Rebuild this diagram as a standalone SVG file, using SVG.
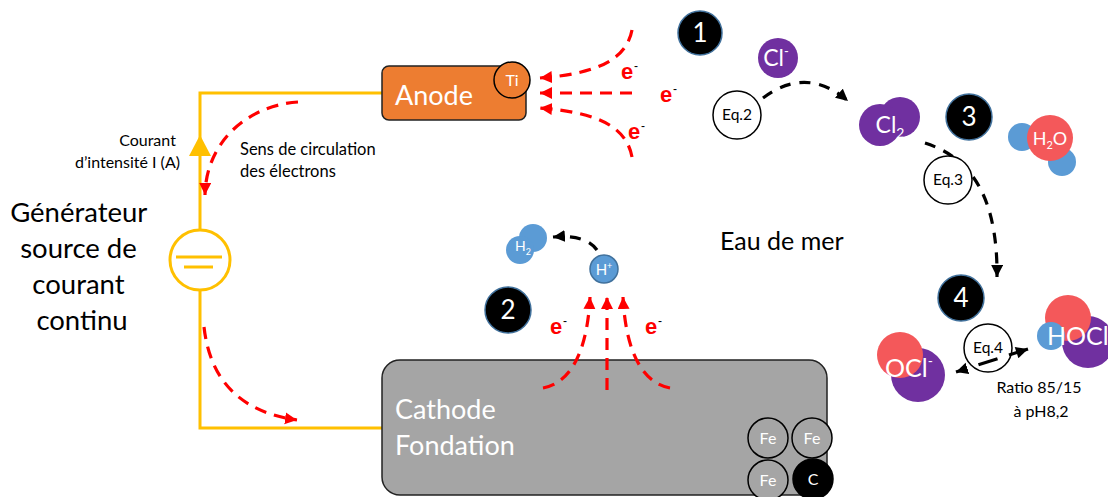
<svg xmlns="http://www.w3.org/2000/svg" width="1108" height="497" viewBox="0 0 1108 497">
  <style>
    .t { font-family: Lato, "Open Sans", "Liberation Sans", sans-serif; }
    .wire { fill: none; stroke: #FFC000; stroke-width: 3; }
    .eflow { fill: none; stroke: #FF0000; stroke-width: 3.2; stroke-dasharray: 12 8; }
    .react { fill: none; stroke: #000; stroke-width: 3.2; stroke-dasharray: 11 9; }
    .num circle { fill: #000; stroke: #41719C; stroke-width: 1.5; }
    .num text { fill: #fff; font-size: 26px; text-anchor: middle; }
    .eq circle { fill: #fff; stroke: #000; stroke-width: 1.5; }
    .eq text { fill: #000; font-size: 15.5px; text-anchor: middle; }
    .el { fill: #FF0000; font-size: 22px; font-weight: bold; font-family: "Liberation Sans", sans-serif; }
    .elm { fill: #000; font-size: 12px; font-family: "Liberation Sans", sans-serif; }
    .mol { fill: #fff; text-anchor: middle; }
    .fe circle { fill: #A5A5A5; stroke: #000; stroke-width: 1.5; }
    .fe text { fill: #fff; font-size: 16px; text-anchor: middle; }
  </style>
  <defs>
    <marker id="arrRed" markerUnits="userSpaceOnUse" markerWidth="14" markerHeight="14" refX="12" refY="6" orient="auto">
      <path d="M0,0 L12,6 L0,12 Z" fill="#FF0000"/>
    </marker>
    <marker id="arrBlack" markerUnits="userSpaceOnUse" markerWidth="14" markerHeight="14" refX="12" refY="6" orient="auto">
      <path d="M0,0 L12,6 L0,12 Z" fill="#000"/>
    </marker>
    <marker id="arrBlackStart" markerUnits="userSpaceOnUse" markerWidth="14" markerHeight="14" refX="0" refY="6" orient="auto">
      <path d="M12,0 L0,6 L12,12 Z" fill="#000"/>
    </marker>
  </defs>

  <rect width="1108" height="497" fill="#fff"/>

  <!-- DC circuit wiring -->
  <g id="circuit">
    <path class="wire" d="M382,93 L200,93 L200,230"/>
    <path class="wire" d="M200,290 L200,428 L382,428"/>
    <polygon points="200,135 189,156 211,156" fill="#FFC000"/>
  </g>

  <!-- Generator -->
  <g id="generator">
    <circle cx="200" cy="260" r="30" fill="#fff" stroke="#FFC000" stroke-width="3"/>
    <line x1="176" y1="257" x2="222" y2="257" stroke="#FFC000" stroke-width="3"/>
    <line x1="184" y1="267" x2="213" y2="267" stroke="#FFC000" stroke-width="3"/>
    <text class="t" font-size="27.5" text-anchor="middle" fill="#000">
      <tspan x="82" y="222">Générateur</tspan>
      <tspan x="82" y="258">source de</tspan>
      <tspan x="82" y="294">courant</tspan>
      <tspan x="82" y="330">continu</tspan>
    </text>
  </g>

  <g id="current-label">
    <text class="t" font-size="16" text-anchor="end" fill="#000">
      <tspan x="180" y="146">Courant</tspan>
      <tspan x="180" y="168">d’intensité I (A)</tspan>
    </text>
  </g>

  <g id="electron-label">
    <text class="t" font-size="16.5" fill="#000">
      <tspan x="240" y="155">Sens de circulation</tspan>
      <tspan x="240" y="177">des électrons</tspan>
    </text>
  </g>

  <!-- Anode -->
  <g id="anode">
    <rect x="382" y="66" width="144" height="54" rx="7" fill="#ED7D31" stroke="#222" stroke-width="1.5"/>
    <text class="t" x="395" y="105" font-size="27" fill="#fff">Anode</text>
    <circle cx="512" cy="80" r="18" fill="#ED7D31" stroke="#000" stroke-width="1.5"/>
    <text class="t" x="512" y="86" font-size="16" fill="#fff" text-anchor="middle">Ti</text>
  </g>

  <!-- Cathode -->
  <g id="cathode">
    <rect x="382" y="360" width="445" height="135" rx="18" fill="#A5A5A5" stroke="#222" stroke-width="1.5"/>
    <text class="t" font-size="27" fill="#fff">
      <tspan x="395" y="419">Cathode</tspan>
      <tspan x="395" y="455">Fondation</tspan>
    </text>
    <g class="fe">
      <circle cx="768" cy="438" r="20"/><text class="t" x="768" y="444">Fe</text>
      <circle cx="812" cy="438" r="20"/><text class="t" x="812" y="444">Fe</text>
      <circle cx="768" cy="480" r="20"/><text class="t" x="768" y="486">Fe</text>
      <circle cx="813" cy="479" r="20" style="fill:#000"/><text class="t" x="813" y="485">C</text>
    </g>
  </g>

  <!-- Connectors -->
  <g id="connectors">
    <path class="eflow" d="M298,102 C250,105 206,140 205,195" marker-end="url(#arrRed)"/>
    <path class="eflow" d="M204,327 C210,380 240,412 297,420" marker-end="url(#arrRed)"/>
    <path class="eflow" d="M632,30 C626,62 592,74 540,78" marker-end="url(#arrRed)"/>
    <path class="eflow" d="M632,93 L540,93" marker-end="url(#arrRed)"/>
    <path class="eflow" d="M632,157 C626,124 592,112 540,108" marker-end="url(#arrRed)"/>
    <path class="eflow" d="M543,388 C576,382 588,340 590,297" marker-end="url(#arrRed)"/>
    <path class="eflow" d="M607,390 L607,297" marker-end="url(#arrRed)"/>
    <path class="eflow" d="M670,388 C637,382 625,340 623,297" marker-end="url(#arrRed)"/>
    <path class="react" d="M763,98 C782,84 812,70 848,101" marker-end="url(#arrBlack)"/>
    <path class="react" d="M925,143 C962,155 998,185 997,277" marker-end="url(#arrBlack)"/>
    <path class="react" d="M597,250 C590,240 576,235 553,237" marker-end="url(#arrBlack)"/>
  </g>

  <!-- Electrons -->
  <g id="electrons">
    <text class="el" x="621" y="79">e</text><text class="elm" x="634" y="70">-</text>
    <text class="el" x="660" y="102">e</text><text class="elm" x="673" y="93">-</text>
    <text class="el" x="628" y="139">e</text><text class="elm" x="641" y="130">-</text>
    <text class="el" x="550" y="334">e</text><text class="elm" x="563" y="325">-</text>
    <text class="el" x="645" y="334">e</text><text class="elm" x="658" y="325">-</text>
  </g>

  <!-- Step markers -->
  <g id="step1" class="num"><circle cx="700" cy="33" r="22"/><text class="t" x="700" y="42">1</text></g>
  <g id="step2" class="num"><circle cx="508" cy="310" r="23"/><text class="t" x="508" y="319">2</text></g>
  <g id="step3" class="num"><circle cx="969" cy="117" r="23"/><text class="t" x="969" y="126">3</text></g>
  <g id="step4" class="num"><circle cx="961" cy="298" r="23"/><text class="t" x="961" y="307">4</text></g>

  <!-- Equations -->
  <g id="eq2" class="eq"><circle cx="737" cy="115" r="24"/><text class="t" x="737" y="120">Eq.2</text></g>
  <g id="eq3" class="eq"><circle cx="948" cy="180" r="24"/><text class="t" x="948" y="185">Eq.3</text></g>
  <g id="eq4" class="eq"><circle cx="988" cy="348" r="24"/><text class="t" x="988" y="353">Eq.4</text></g>
  <g id="eq4-link">
    <path class="react" d="M1028,349 L956,372" marker-start="url(#arrBlackStart)" marker-end="url(#arrBlack)" style="stroke-dasharray:20 12"/>
  </g>

  <!-- Molecules -->
  <g id="cl-ion">
    <circle cx="778" cy="58" r="20" fill="#7030A0"/>
    <text class="t mol" x="776" y="66" font-size="23">Cl<tspan font-size="13" dy="-10">-</tspan></text>
  </g>
  <g id="cl2">
    <circle cx="900" cy="117" r="20" fill="#7030A0"/>
    <circle cx="880" cy="125" r="21" fill="#7030A0"/>
    <text class="t mol" x="890" y="133" font-size="23">Cl<tspan font-size="14" dy="5">2</tspan></text>
  </g>
  <g id="h2o">
    <circle cx="1022" cy="137" r="14" fill="#5B9BD5"/>
    <circle cx="1062" cy="162" r="14" fill="#5B9BD5"/>
    <circle cx="1050" cy="138" r="23" fill="#F4585A"/>
    <text class="t mol" x="1050" y="145" font-size="18">H<tspan font-size="11" dy="4">2</tspan><tspan dy="-4">O</tspan></text>
  </g>
  <g id="h2">
    <circle cx="533" cy="238" r="14" fill="#5B9BD5"/>
    <circle cx="520" cy="250" r="14" fill="#5B9BD5"/>
    <text class="t mol" x="523" y="251" font-size="14">H<tspan font-size="9" dy="4">2</tspan></text>
  </g>
  <g id="h-ion">
    <circle cx="604" cy="269" r="14" fill="#5B9BD5" stroke="#41719C" stroke-width="1.5"/>
    <text class="t mol" x="604" y="275" font-size="15">H<tspan font-size="9" dy="-6">+</tspan></text>
  </g>
  <g id="ocl-ion">
    <circle cx="918" cy="375" r="27" fill="#7030A0"/>
    <circle cx="900" cy="355" r="23" fill="#F4585A"/>
    <text class="t mol" x="909" y="377" font-size="25">OCl<tspan font-size="14" dy="-11">-</tspan></text>
  </g>
  <g id="hocl">
    <circle cx="1088" cy="342" r="26" fill="#7030A0"/>
    <circle cx="1068" cy="318" r="23" fill="#F4585A"/>
    <circle cx="1051" cy="336" r="14" fill="#5B9BD5"/>
    <text class="t" x="1047" y="345" font-size="25" fill="#fff">HOCl</text>
  </g>

  <g id="labels">
    <text class="t" x="720" y="250" font-size="25" fill="#000">Eau de mer</text>
    <text class="t" font-size="16" text-anchor="middle" fill="#000">
      <tspan x="1041" y="393">Ratio 85/15</tspan>
      <tspan x="1041" y="417">à pH8,2</tspan>
    </text>
  </g>
</svg>
